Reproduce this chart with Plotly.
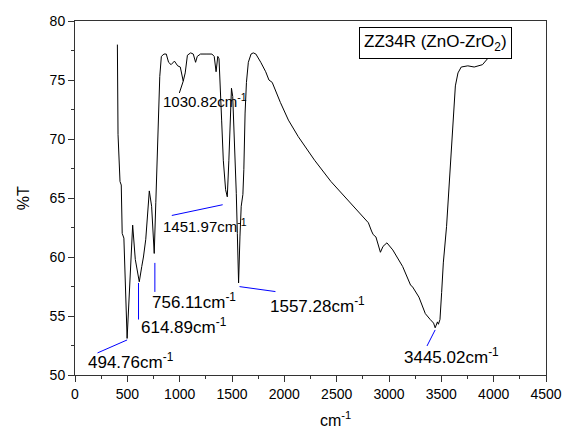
import plotly.graph_objects as go

# Spectrum (wavenumber cm^-1, %T)
wavenumber = [405, 406, 411, 430, 442, 451, 467, 498, 551, 576, 614, 638, 654, 676, 710, 732, 757, 772,
              794, 810, 825, 850, 872, 894, 918, 950, 981, 1006, 1034, 1053, 1074, 1105, 1130, 1152, 1168,
              1199, 1261, 1308, 1330, 1348, 1364, 1376, 1401, 1417, 1439, 1455, 1470, 1485, 1495, 1507,
              1520, 1532, 1541, 1551, 1563, 1576, 1588, 1604, 1613, 1625, 1638, 1656, 1682, 1703, 1728,
              1775, 1822, 1853, 1884, 1962, 2039, 2133, 2289, 2445, 2600, 2725, 2803, 2833, 2849, 2875,
              2896, 2918, 2943, 2980, 3036, 3130, 3207, 3223, 3286, 3347, 3394, 3426, 3441, 3463, 3472,
              3487, 3503, 3519, 3550, 3581, 3613, 3634, 3659, 3690, 3753, 3814, 3893, 3955, 3970]
transmittance = [78.0, 72.6, 70.4, 66.4, 66.1, 62.0, 61.6, 53.1, 62.7, 59.8, 57.9, 59.2, 60.0, 61.5, 65.6,
                 64.3, 60.3, 64.6, 71.6, 75.3, 77.0, 77.2, 77.2, 76.5, 76.3, 76.6, 76.2, 76.1, 74.9, 75.6,
                 77.1, 77.3, 77.2, 76.5, 77.0, 77.2, 77.2, 77.2, 77.0, 75.7, 77.0, 76.8, 71.6, 68.2, 65.7,
                 65.1, 68.2, 73.1, 74.3, 73.6, 70.8, 67.7, 65.4, 62.0, 57.8, 61.7, 64.3, 65.3, 67.4, 72.2,
                 74.8, 76.5, 77.2, 77.3, 77.2, 76.5, 75.7, 75.0, 74.8, 73.1, 71.6, 70.2, 68.2, 66.4, 64.9,
                 63.6, 62.9, 62.2, 61.9, 61.7, 61.0, 60.4, 60.9, 61.2, 60.6, 59.2, 57.6, 57.5, 56.6, 55.2,
                 54.7, 54.4, 54.0, 54.5, 54.3, 54.7, 57.0, 59.5, 62.6, 66.8, 71.1, 74.5, 75.6, 76.1, 76.2,
                 76.1, 76.3, 76.9, 77.1]

# Peak labels
peak_labels = ["494.76", "614.89", "756.11", "1030.82", "1451.97", "1557.28", "3445.02"]
label_x = [103, 607, 717, 819, 819, 1840, 3125]
label_y = [51.2, 54.15, 56.3, 73.25, 62.7, 55.9, 51.6]
label_size = [17, 17, 17, 15, 15, 17, 17]
leader_x0 = [215, 607, 763, 1034, 925, 1572, 3363]
leader_y0 = [51.87, 57.8, 59.5, 74.9, 63.52, 57.49, 52.46]
leader_x1 = [498, 607, 763, 997, 1411, 1915, 3441]
leader_y1 = [52.97, 54.7, 57.04, 73.9, 64.43, 57.07, 53.82]
leader_color = ["#0000ff", "#0000ff", "#0000ff", "#000000", "#0000ff", "#0000ff", "#0000ff"]

x_ticks = [0, 500, 1000, 1500, 2000, 2500, 3000, 3500, 4000, 4500]
y_ticks = [50, 55, 60, 65, 70, 75, 80]

FONT = "Liberation Sans, Arial, sans-serif"

fig = go.Figure()
fig.add_trace(go.Scatter(x=wavenumber, y=transmittance, mode="lines",
                         line=dict(color="black", width=1), showlegend=False, hoverinfo="skip"))

shapes = []
annotations = []
for i, lab in enumerate(peak_labels):
    shapes.append(dict(type="line", xref="x", yref="y",
                       x0=leader_x0[i], y0=leader_y0[i], x1=leader_x1[i], y1=leader_y1[i],
                       line=dict(color=leader_color[i], width=1)))
    annotations.append(dict(x=label_x[i], y=label_y[i], xref="x", yref="y",
                            text=lab + "cm<sup>-1</sup>", showarrow=False,
                            xanchor="left", yanchor="middle",
                            font=dict(family=FONT, size=label_size[i], color="black")))

annotations.append(dict(x=0.766, y=0.939, xref="paper", yref="paper",
                        text="ZZ34R (ZnO-ZrO<sub>2</sub>)", showarrow=False,
                        xanchor="center", yanchor="middle",
                        font=dict(family=FONT, size=17, color="black"),
                        bordercolor="black", borderwidth=1, borderpad=4, bgcolor="white"))
annotations.append(dict(x=0.553, y=-0.125, xref="paper", yref="paper",
                        text="cm<sup>-1</sup>", showarrow=False,
                        xanchor="center", yanchor="middle",
                        font=dict(family=FONT, size=16, color="black")))
annotations.append(dict(x=-0.11, y=0.5, xref="paper", yref="paper",
                        text="%T", showarrow=False, textangle=-90,
                        xanchor="center", yanchor="middle",
                        font=dict(family=FONT, size=16, color="black")))

fig.update_layout(
    width=574, height=431,
    margin=dict(l=75, r=17, t=21, b=56),
    paper_bgcolor="white", plot_bgcolor="white",
    shapes=shapes, annotations=annotations,
    font=dict(family=FONT, size=14, color="black"),
)
fig.update_xaxes(range=[0, 4500], tickvals=x_ticks, ticks="outside", ticklen=6, tickwidth=1,
                 tickcolor="#333", showline=True, linecolor="#333", linewidth=1, mirror=True,
                 showgrid=False, zeroline=False,
                 minor=dict(ticks="outside", ticklen=3, tickcolor="#333", dtick=250, showgrid=False),
                 tickfont=dict(family=FONT, size=14, color="black"))
fig.update_yaxes(range=[50, 80], tickvals=y_ticks, ticks="outside", ticklen=6, tickwidth=1,
                 tickcolor="#333", showline=True, linecolor="#333", linewidth=1, mirror=True,
                 showgrid=False, zeroline=False,
                 minor=dict(ticks="outside", ticklen=3, tickcolor="#333", dtick=2.5, showgrid=False),
                 tickfont=dict(family=FONT, size=14, color="black"))

fig.write_html("out.html")
